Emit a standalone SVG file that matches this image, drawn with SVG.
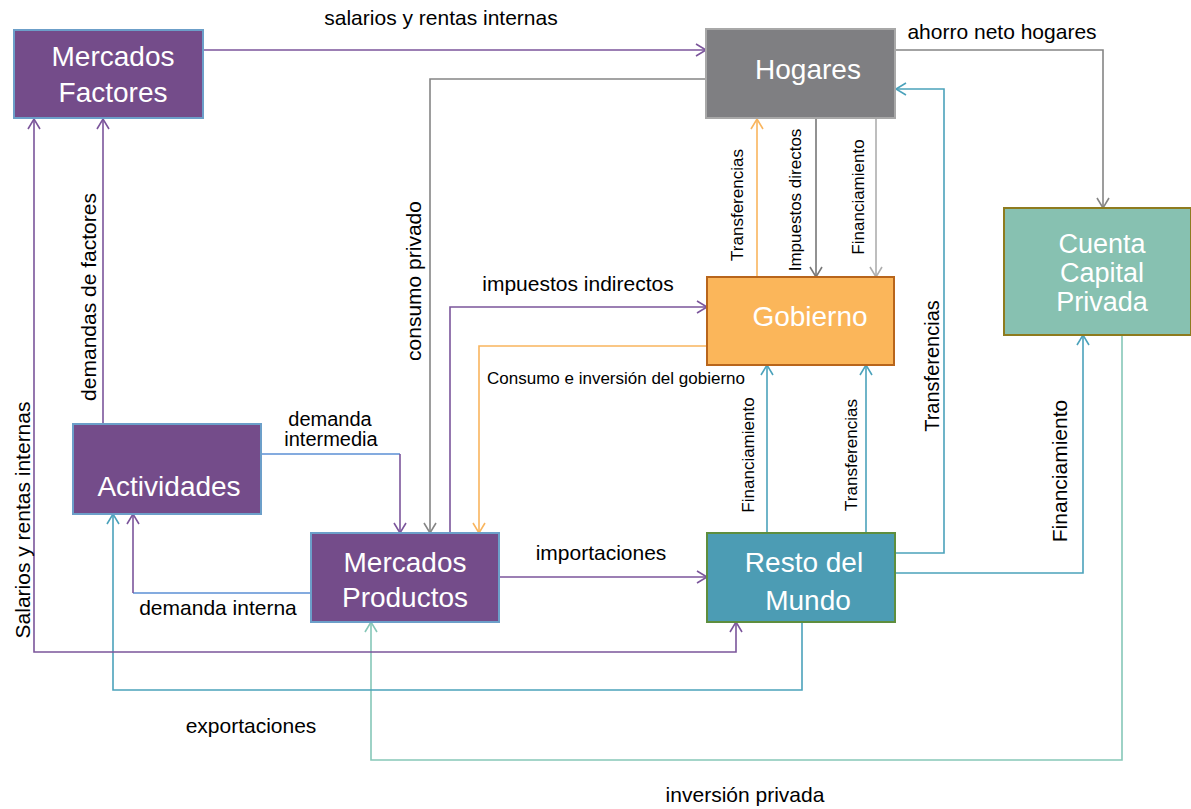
<svg xmlns="http://www.w3.org/2000/svg" width="1191" height="809" viewBox="0 0 1191 809">
<style>
text{font-family:"Liberation Sans","Open Sans",Arial,sans-serif;fill:#000}
.nt{fill:#fff;font-size:28px;text-anchor:middle}
.lb{font-size:21px;text-anchor:middle}
.sm{font-size:17px;text-anchor:middle}
.c{fill:none;stroke-width:1.6}
.pu{stroke:#7B559B}
.gr{stroke:#858585}
.lg{stroke:#AEAEAE}
.dg{stroke:#777}
.or{stroke:#F9B55E}
.te{stroke:#4BA2BB}
.mi{stroke:#86C7B8}
.bl{stroke:#5B8FD5}
</style>
<defs>
<marker id="aPu" viewBox="0 0 14 14" markerWidth="14" markerHeight="14" refX="12" refY="7" orient="auto-start-reverse" markerUnits="userSpaceOnUse"><path d="M2,1 L12,7 L2,13" fill="none" stroke="#7B559B" stroke-width="1.6"/></marker>
<marker id="aGr" viewBox="0 0 14 14" markerWidth="14" markerHeight="14" refX="12" refY="7" orient="auto" markerUnits="userSpaceOnUse"><path d="M2,1 L12,7 L2,13" fill="none" stroke="#858585" stroke-width="1.6"/></marker>
<marker id="aLg" viewBox="0 0 14 14" markerWidth="14" markerHeight="14" refX="12" refY="7" orient="auto" markerUnits="userSpaceOnUse"><path d="M2,1 L12,7 L2,13" fill="none" stroke="#AEAEAE" stroke-width="1.6"/></marker>
<marker id="aDg" viewBox="0 0 14 14" markerWidth="14" markerHeight="14" refX="12" refY="7" orient="auto" markerUnits="userSpaceOnUse"><path d="M2,1 L12,7 L2,13" fill="none" stroke="#777" stroke-width="1.6"/></marker>
<marker id="aOr" viewBox="0 0 14 14" markerWidth="14" markerHeight="14" refX="12" refY="7" orient="auto" markerUnits="userSpaceOnUse"><path d="M2,1 L12,7 L2,13" fill="none" stroke="#F9B55E" stroke-width="1.6"/></marker>
<marker id="aTe" viewBox="0 0 14 14" markerWidth="14" markerHeight="14" refX="12" refY="7" orient="auto" markerUnits="userSpaceOnUse"><path d="M2,1 L12,7 L2,13" fill="none" stroke="#4BA2BB" stroke-width="1.6"/></marker>
<marker id="aMi" viewBox="0 0 14 14" markerWidth="14" markerHeight="14" refX="12" refY="7" orient="auto" markerUnits="userSpaceOnUse"><path d="M2,1 L12,7 L2,13" fill="none" stroke="#86C7B8" stroke-width="1.6"/></marker>
</defs>
<rect width="1191" height="809" fill="#fff"/>

<g id="connectors">
<path class="c pu" d="M203,50 H706" marker-end="url(#aPu)"/>
<path class="c gr" d="M896,50 H1103 V208" marker-end="url(#aGr)"/>
<path class="c gr" d="M706,79 H430 V533" marker-end="url(#aGr)"/>
<path class="c or" d="M757,277 V119" marker-end="url(#aOr)"/>
<path class="c dg" d="M816,119 V277" marker-end="url(#aDg)"/>
<path class="c lg" d="M876,119 V277" marker-end="url(#aLg)"/>
<path class="c te" d="M895,553 H944 V89 H896" marker-end="url(#aTe)"/>
<path class="c pu" d="M450,533 V307 H707" marker-end="url(#aPu)"/>
<path class="c or" d="M707,346 H479 V533" marker-end="url(#aOr)"/>
<path class="c te" d="M767,533 V365" marker-end="url(#aTe)"/>
<path class="c te" d="M866,533 V365" marker-end="url(#aTe)"/>
<path class="c te" d="M895,573 H1083 V335" marker-end="url(#aTe)"/>
<path class="c mi" d="M1122,335 V760 H371 V622" marker-end="url(#aMi)"/>
<path class="c te" d="M802,622 V690 H113 V514" marker-end="url(#aTe)"/>
<path class="c pu" d="M34,119 V652 H736 V622" marker-start="url(#aPu)" marker-end="url(#aPu)"/>
<path class="c pu" d="M103,424 V119" marker-end="url(#aPu)"/>
<path class="c bl" d="M262,454 H400"/>
<path class="c pu" d="M400,454 V533" marker-end="url(#aPu)"/>
<path class="c bl" d="M311,593 H133"/>
<path class="c pu" d="M133,593 V514" marker-end="url(#aPu)"/>
<path class="c pu" d="M499,577 H707" marker-end="url(#aPu)"/>

<text class="lb" x="441" y="25">salarios y rentas internas</text>
<text class="lb" x="1002" y="39">ahorro neto hogares</text>
<text class="lb" x="578" y="291">impuestos indirectos</text>
<text class="sm" x="616" y="384">Consumo e inversión del gobierno</text>
<text class="lb" style="font-size:20px" x="330" y="426">demanda</text>
<text class="lb" style="font-size:20px" x="331" y="446">intermedia</text>
<text class="lb" x="218" y="615">demanda interna</text>
<text class="lb" x="601" y="560">importaciones</text>
<text class="lb" x="251" y="733">exportaciones</text>
<text class="lb" x="745" y="802">inversión privada</text>
<text class="sm" transform="translate(743,205) rotate(-90)">Transferencias</text>
<text class="sm" transform="translate(801,200) rotate(-90)">Impuestos directos</text>
<text class="sm" transform="translate(864,197) rotate(-90)">Financiamiento</text>
<text class="sm" transform="translate(754,455) rotate(-90)">Financiamiento</text>
<text class="sm" transform="translate(857,455) rotate(-90)">Transferencias</text>
<text class="lb" style="font-size:20px" transform="translate(939,366) rotate(-90)">Transferencias</text>
<text class="lb" transform="translate(1067,471) rotate(-90)">Financiamiento</text>
<text class="lb" transform="translate(421,281) rotate(-90)">consumo privado</text>
<text class="lb" transform="translate(96,297) rotate(-90)">demandas de factores</text>
<text class="lb" transform="translate(30,520) rotate(-90)">Salarios y rentas internas</text>
</g>

<g id="mercados-factores">
<rect x="14" y="30" width="189" height="88" fill="#744C8A" stroke="#6C9FC9" stroke-width="2"/>
<text class="nt" x="113" y="66">Mercados</text>
<text class="nt" x="113" y="102">Factores</text>
</g>
<g id="hogares">
<rect x="706" y="29" width="189" height="89" fill="#7F7F82" stroke="#A8A8A8" stroke-width="2"/>
<text class="nt" x="808" y="79">Hogares</text>
</g>
<g id="gobierno">
<rect x="707" y="277" width="187" height="88" fill="#FBB65A" stroke="#B8651B" stroke-width="2"/>
<text class="nt" x="810" y="326">Gobierno</text>
</g>
<g id="cuenta-capital-privada">
<rect x="1004" y="208" width="187" height="127" fill="#87C1B1" stroke="#8E7B1F" stroke-width="2"/>
<text class="nt" style="font-size:27px" x="1102" y="253">Cuenta</text>
<text class="nt" style="font-size:27px" x="1102" y="282">Capital</text>
<text class="nt" style="font-size:27px" x="1102" y="311">Privada</text>
</g>
<g id="actividades">
<rect x="73" y="424" width="188" height="90" fill="#744C8A" stroke="#6C9FC9" stroke-width="2"/>
<text class="nt" x="169" y="496">Actividades</text>
</g>
<g id="mercados-productos">
<rect x="311" y="533" width="188" height="89" fill="#744C8A" stroke="#6C9FC9" stroke-width="2"/>
<text class="nt" x="405" y="572">Mercados</text>
<text class="nt" x="405" y="607">Productos</text>
</g>
<g id="resto-del-mundo">
<rect x="707" y="533" width="188" height="89" fill="#4C9CB4" stroke="#5E8E3E" stroke-width="2"/>
<text class="nt" x="804" y="572">Resto del</text>
<text class="nt" x="808" y="610">Mundo</text>
</g>
</svg>
